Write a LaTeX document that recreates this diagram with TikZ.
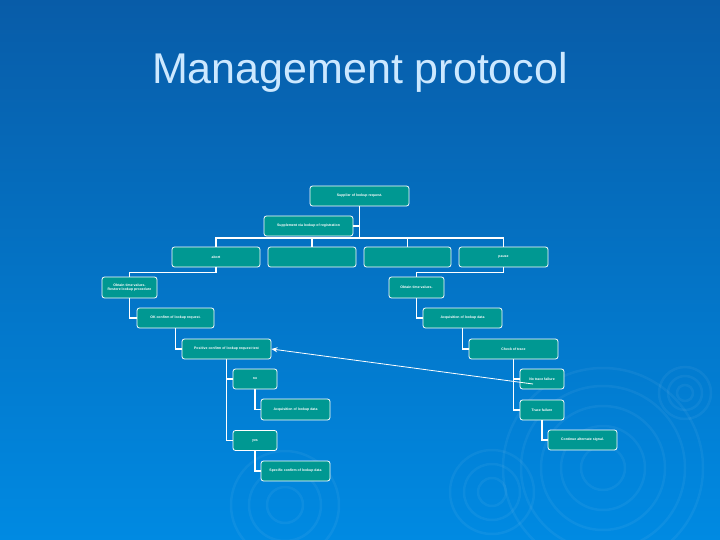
\documentclass[tikz,border=0pt]{standalone}
\usepackage{fontspec}
\setmainfont{Liberation Sans}
\usetikzlibrary{arrows.meta}
\definecolor{bgtop}{RGB}{8,92,168}
\definecolor{bgbot}{RGB}{0,138,226}
\definecolor{boxteal}{RGB}{0,152,146}
\definecolor{titleblue}{RGB}{204,232,255}
\tikzset{
    box/.style={draw=white, line width=0.8pt, fill=boxteal, rounded corners=2.5pt,
        minimum height=20pt, inner sep=1pt, text=white, align=center,
        font=\fontsize{3.5}{4.2}\selectfont\bfseries},
    link/.style={draw=white, line width=1.8pt},
    ripple/.style={draw=white, opacity=0.05, line width=2.5pt}
}
\begin{document}
\begin{tikzpicture}[x=1pt, y=-1pt]
    \useasboundingbox (0,0) rectangle (720,540);
    \shade[top color=bgtop, bottom color=bgbot] (0,0) rectangle (720,540);
    \foreach \r in {22,42,62,82,100} \draw[ripple] (603,468) circle (\r);
    \foreach \r in {8,17,26} \draw[ripple] (685,393) circle (\r);
    \foreach \r in {14,28,42} \draw[ripple] (492,492) circle (\r);
    \foreach \r in {18,36,54} \draw[ripple] (285,505) circle (\r);

    \node[text=titleblue, font=\fontsize{43}{50}\selectfont] (title) at (360,72) {Management protocol};

    \node[box, minimum width=99pt] (sup) at (359.5,196) {Supplier of lookup request.};
    \node[box, minimum width=89pt] (supl) at (308.5,226) {Supplement via lookup of registration};
    \coordinate (bus) at (359.5,238);
    \node[box, minimum width=88pt] (abort) at (216,257) {abort};
    \node[box, minimum width=88pt] (e1) at (312,257) {};
    \node[box, minimum width=87pt] (e2) at (407.5,257) {};
    \node[box, minimum width=89pt] (pause) at (503.5,257) {pause};

    \node[box, minimum width=55pt, minimum height=21pt] (otl) at (129.5,287.5) {Obtain time values.\\Restore lookup procedure};
    \node[box, minimum width=77pt] (okl) at (175.5,318) {OK confirm of lookup request.};
    \node[box, minimum width=89pt] (pos) at (226.5,349) {Positive confirm of lookup request test};
    \node[box, minimum width=44pt] (no) at (255,379) {no};
    \node[box, minimum width=69pt, minimum height=21pt] (acql) at (295.5,409.5) {Acquisition of lookup data};
    \node[box, minimum width=44pt] (yes) at (255,440.5) {yes};
    \node[box, minimum width=69pt] (spec) at (295.5,471) {Specific confirm of lookup data};

    \node[box, minimum width=55pt, minimum height=21pt] (otr) at (416.5,287.5) {Obtain time values.};
    \node[box, minimum width=79pt] (acqr) at (462.5,318) {Acquisition of lookup data};
    \node[box, minimum width=89pt] (chk) at (513.5,349) {Check of trace};
    \node[box, minimum width=44pt] (ntf) at (542,379) {No trace failure};
    \node[box, minimum width=44pt] (trf) at (542,410) {Trace failure};
    \node[box, minimum width=69pt] (cont) at (582.5,440) {Continue alternate signal.};

    \draw[link] (sup.south) -- (bus);
    \draw[link] (supl.east) -- (supl.east -| sup.south);
    \draw[link] (abort.north) |- (pause.north |- bus) -- (pause.north);
    \draw[link] (e1.north) -- (e1.north |- bus);
    \draw[link] (e2.north) -- (e2.north |- bus);

    \draw[link] (abort.south) -- ++(0,5) -| (otl.north);
    \draw[link] (otl.south) |- (okl.west);
    \draw[link] (okl.south) |- (pos.west);
    \draw[link] (pos.south) |- (no.west);
    \draw[link] (pos.south) |- (yes.west);
    \draw[link] (no.south) |- (acql.west);
    \draw[link] (yes.south) |- (spec.west);

    \draw[link] (pause.south) -- ++(0,5) -| (otr.north);
    \draw[link] (otr.south) |- (acqr.west);
    \draw[link] (acqr.south) |- (chk.west);
    \draw[link] (chk.south) |- (ntf.west);
    \draw[link] (chk.south) |- (trf.west);
    \draw[link] (trf.south) |- (cont.west);

    \draw[white, line width=0.8pt, -{Stealth[length=6pt, width=5pt]}] ([xshift=-9pt, yshift=-5pt]ntf.center) -- (pos.east);
\end{tikzpicture}
\end{document}
